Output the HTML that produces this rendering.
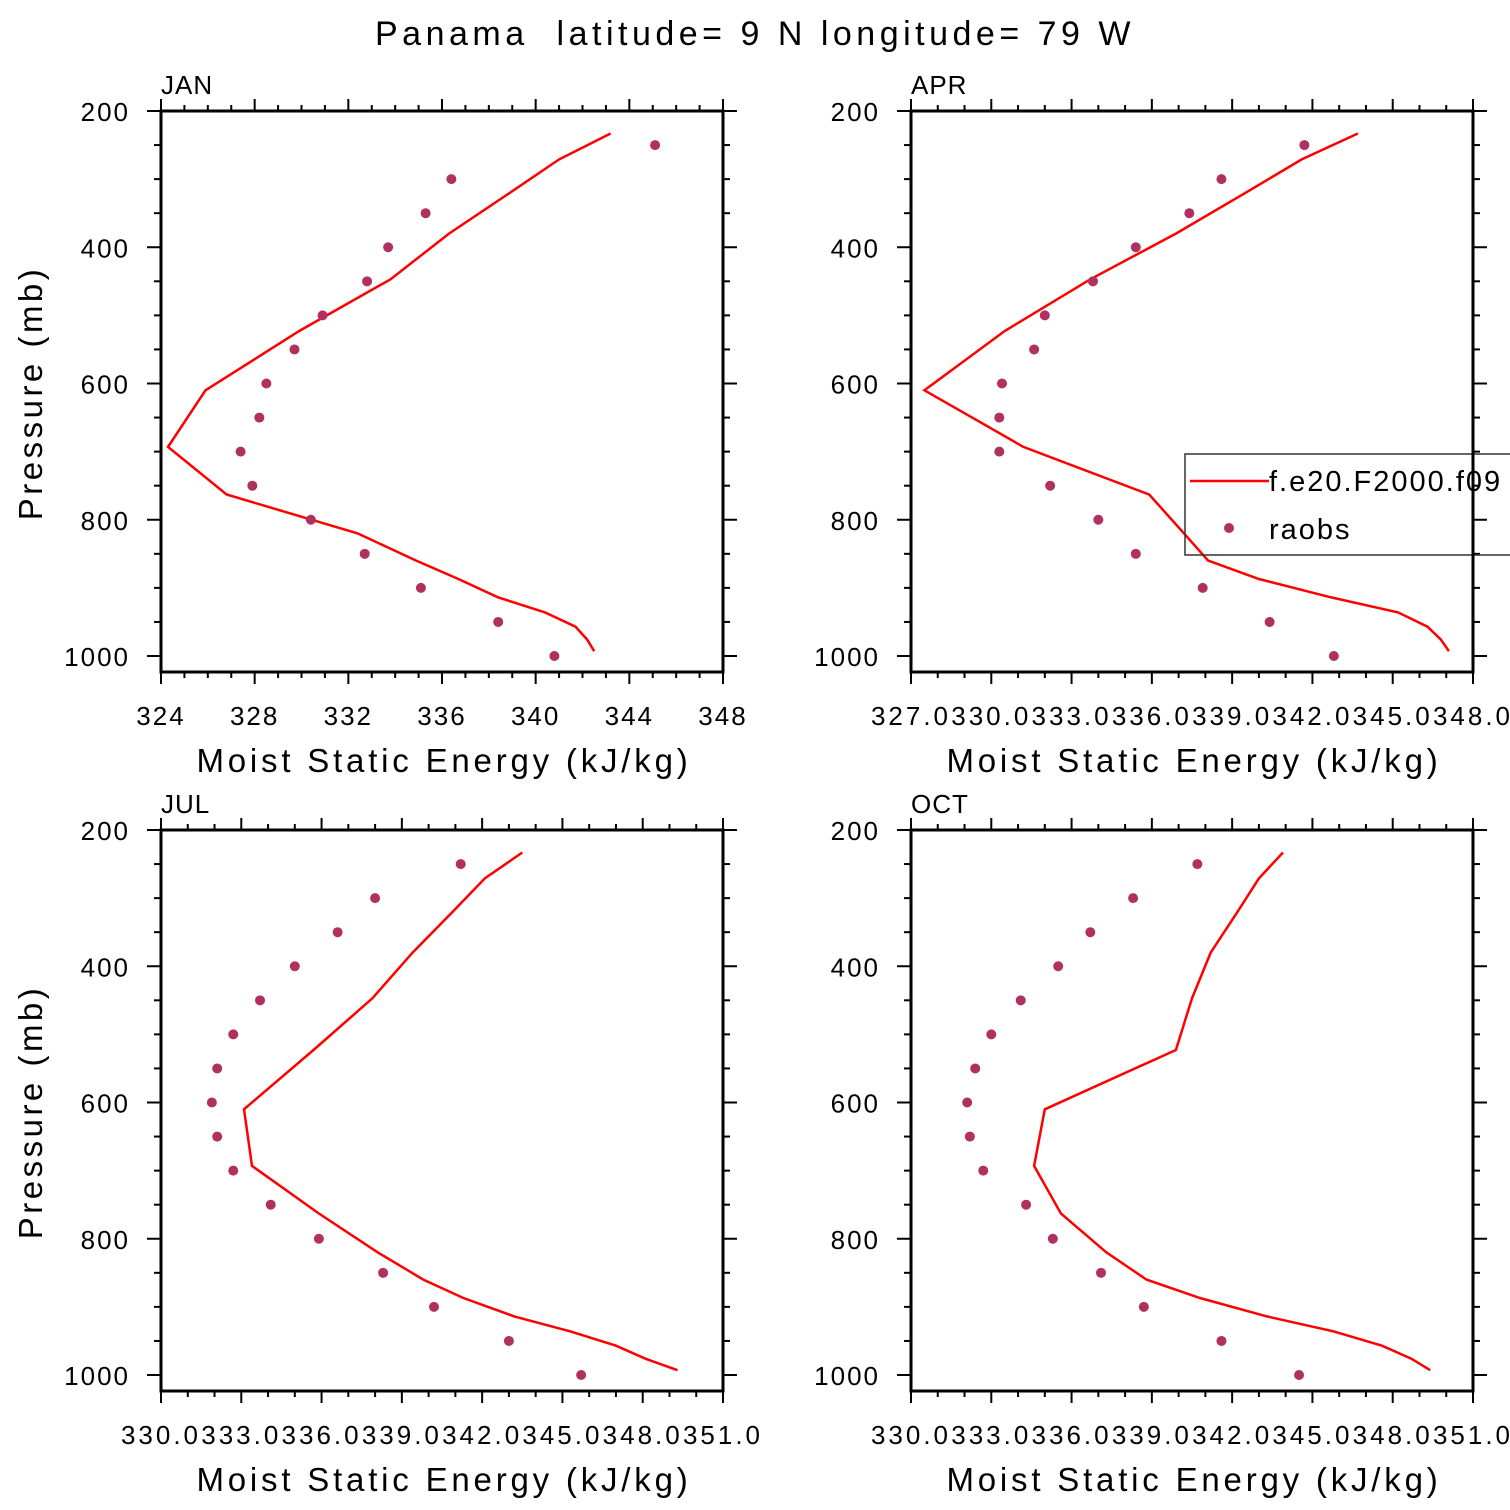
<!DOCTYPE html>
<html><head><meta charset="utf-8"><style>
html,body{margin:0;padding:0;background:#fff;}
svg{display:block;font-family:"Liberation Sans",sans-serif;}
text{white-space:pre;}
</style></head><body>
<svg id="fig" width="1510" height="1510" viewBox="0 0 1510 1510" xmlns="http://www.w3.org/2000/svg">
<text x="755" y="45" text-anchor="middle" font-size="34" letter-spacing="4.5" fill="#000">Panama  latitude= 9 N longitude= 79 W</text>
</svg>
<script>
const obsP=[250,300,350,400,450,500,550,600,650,700,750,800,850,900,950,1000];
const modP=[233,271,320,380,447,523,610,693,763,820,860,887,914,936,957,976,993];
const janObs=[345.1,336.4,335.3,333.7,332.8,330.9,329.7,328.5,328.2,327.4,327.9,330.4,332.7,335.1,338.4,340.8];
const janMod=[343.2,341.0,338.9,336.3,333.8,329.9,325.9,324.3,326.8,332.4,334.9,336.7,338.4,340.4,341.7,342.2,342.5];
const aprObs=[341.7,338.6,337.4,335.4,333.8,332.0,331.6,330.4,330.3,330.3,332.2,334.0,335.4,337.9,340.4,342.8];
const aprMod=[343.7,341.6,339.5,336.9,333.7,330.5,327.5,331.2,335.9,337.2,338.1,340.0,342.7,345.2,346.3,346.8,347.1];
const julObs=[341.2,338.0,336.6,335.0,333.7,332.7,332.1,331.9,332.1,332.7,334.1,335.9,338.3,340.2,343.0,345.7];
const julMod=[343.5,342.1,340.9,339.4,337.9,335.7,333.1,333.4,335.9,338.1,339.8,341.3,343.2,345.3,347.0,348.1,349.3];
const octObs=[340.7,338.3,336.7,335.5,334.1,333.0,332.4,332.1,332.2,332.7,334.3,335.3,337.1,338.7,341.6,344.5];
const octMod=[343.9,343.0,342.2,341.2,340.5,339.9,335.0,334.6,335.6,337.3,338.8,340.8,343.3,345.8,347.6,348.7,349.4];
const xTicksJan=[324,328,332,336,340,344,348];
const xTicksApr=[327,330,333,336,339,342,345,348];
const xTicksJul=[330,333,336,339,342,345,348,351];
const yTicks=[200,400,600,800,1000];

const NS="http://www.w3.org/2000/svg";
const svg=document.getElementById('fig');
function mk(tag,attrs,parent){const e=document.createElementNS(NS,tag);for(const k in attrs)e.setAttribute(k,attrs[k]);(parent||svg).appendChild(e);return e;}

function panel(cfg){
  const L=cfg.x0,R=cfg.x0+562,T=cfg.y0,B=cfg.y0+561;
  const g=mk('g',{});
  
  
  const xs=v=>L+(v-cfg.xmin)/(cfg.xmax-cfg.xmin)*562;
  const ys=p=>T+(p-200)*0.68125;
  for(let v=cfg.xmin;v<=cfg.xmax+1e-6;v+=1){
    const major=cfg.xt.some(t=>Math.abs(t-v)<1e-6);const len=major?12:6;
    mk('line',{x1:xs(v),x2:xs(v),y1:T,y2:T-len,stroke:'#000','stroke-width':2},g);
    mk('line',{x1:xs(v),x2:xs(v),y1:B,y2:B+len,stroke:'#000','stroke-width':2},g);
  }
  for(let p=200;p<=1000;p+=50){
    const major=p%200===0;const len=major?14:7;
    mk('line',{x1:L,x2:L-len,y1:ys(p),y2:ys(p),stroke:'#000','stroke-width':2},g);
    mk('line',{x1:R,x2:R+len,y1:ys(p),y2:ys(p),stroke:'#000','stroke-width':2},g);
  }
  const frame=mk('rect',{x:L,y:T,width:562,height:561,fill:'none',stroke:'#000','stroke-width':3},g);
  
  
  cfg.xt.forEach(v=>{
    const t=mk('text',{x:xs(v),y:B+53,'text-anchor':'middle','font-size':26,'letter-spacing':cfg.ls,fill:'#000'},g);
    
    
    t.textContent=cfg.fmt(v);
  });
  yTicks.forEach(p=>{
    const t=mk('text',{x:L-31,y:ys(p)+10,'text-anchor':'end','font-size':26,'letter-spacing':2,fill:'#000'},g);
    
    
    t.textContent=p;
  });
  const ttl=mk('text',{x:L,y:T-17,'font-size':26,'letter-spacing':1,fill:'#000'},g);
  
  
  ttl.textContent=cfg.title;
  const xl=mk('text',{x:L+283,y:B+100,'text-anchor':'middle','font-size':33,'letter-spacing':3.8,fill:'#000'},g);
  
  
  xl.textContent='Moist Static Energy (kJ/kg)';
  if(cfg.ylab){
    const yl=mk('text',{x:0,y:0,'text-anchor':'middle','font-size':33,'letter-spacing':3.5,fill:'#000',transform:`translate(42,${T+282}) rotate(-90)`},g);
    
    
    yl.textContent='Pressure (mb)';
  }
  const pts=cfg.mod.map((v,i)=>xs(v).toFixed(1)+','+ys(modP[i]).toFixed(1)).join(' ');
  const ln=mk('polyline',{points:pts,fill:'none',stroke:'#ff0000','stroke-width':2.5},g);
  
  
  cfg.obs.forEach((v,i)=>{
    const c=mk('circle',{cx:xs(v),cy:ys(obsP[i]),r:5,fill:'#b03060'},g);
    
    
  });
}
const f0=v=>String(v), f1=v=>v.toFixed(1);
panel({name:'jan',title:'JAN',x0:161,y0:111,xmin:324,xmax:348,xt:xTicksJan,fmt:f0,ls:2,obs:janObs,mod:janMod,ylab:true});
panel({name:'apr',title:'APR',x0:911,y0:111,xmin:327,xmax:348,xt:xTicksApr,fmt:f1,ls:3,obs:aprObs,mod:aprMod,ylab:false});
panel({name:'jul',title:'JUL',x0:161,y0:830,xmin:330,xmax:351,xt:xTicksJul,fmt:f1,ls:3,obs:julObs,mod:julMod,ylab:true});
panel({name:'oct',title:'OCT',x0:911,y0:830,xmin:330,xmax:351,xt:xTicksJul,fmt:f1,ls:3,obs:octObs,mod:octMod,ylab:false});

const lg=mk('g',{});


mk('rect',{x:1185,y:454,width:340,height:101,fill:'none',stroke:'#333','stroke-width':1.5},lg);
mk('line',{x1:1190,x2:1269,y1:481,y2:481,stroke:'#ff0000','stroke-width':2.5},lg);
const lt1=mk('text',{x:1269,y:491,'font-size':29,'letter-spacing':2,fill:'#000'},lg);


lt1.textContent='f.e20.F2000.f09';
mk('circle',{cx:1229,cy:528,r:5,fill:'#b03060'},lg);
const lt2=mk('text',{x:1269,y:539,'font-size':29,'letter-spacing':2,fill:'#000'},lg);


lt2.textContent='raobs';
mk('line',{x1:1473,x2:1473,y1:111,y2:672,stroke:'#000','stroke-width':3});
</script>
</body></html>
